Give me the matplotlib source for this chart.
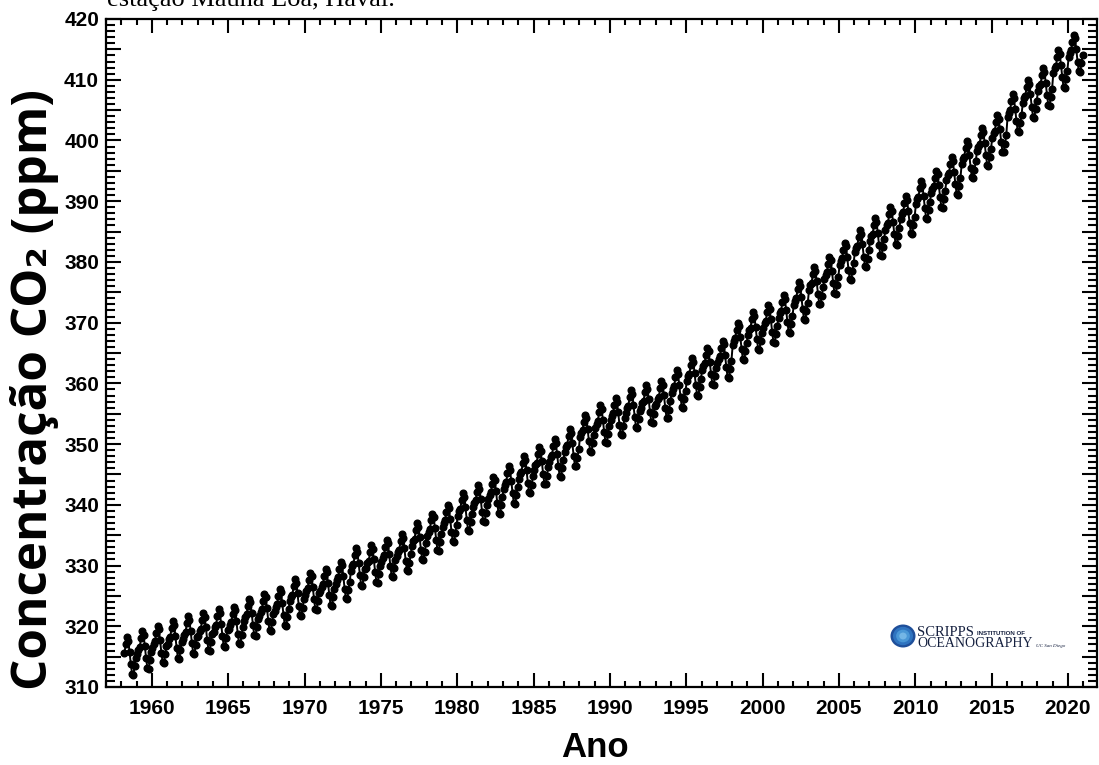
import matplotlib
matplotlib.use("Agg")
import matplotlib.pyplot as plt
from matplotlib.ticker import MultipleLocator, FuncFormatter
from matplotlib.patches import Ellipse

# Mauna Loa monthly CO2 record, March 1958 - December 2020
years = list(range(1958, 2021))
annual_mean_ppm = [
    315.00, 315.98, 316.91, 317.64, 318.45, 318.99, 319.62, 320.04, 321.37, 322.18,
    323.05, 324.62, 325.68, 326.32, 327.46, 329.68, 330.19, 331.12, 332.03, 333.84,
    335.41, 336.84, 338.76, 340.12, 341.48, 343.15, 344.87, 346.35, 347.61, 349.31,
    351.69, 353.20, 354.45, 355.70, 356.54, 357.21, 358.96, 360.97, 362.74, 363.88,
    366.84, 368.54, 369.71, 371.32, 373.45, 375.98, 377.70, 379.98, 382.09, 384.02,
    385.83, 387.64, 390.10, 391.85, 394.06, 396.74, 398.81, 401.01, 404.41, 406.76,
    408.72, 411.66, 414.24,
]
# Monthly departure from the annual mean (Jan..Dec)
seasonal_offset_ppm = [-0.54, 0.19, 0.61, 2.01, 3.16, 2.56, 0.81, -1.24, -2.84, -2.99, -1.54, -0.19]
first_month_1958 = 3

x_ticks_major = list(range(1960, 2021, 5))
y_tick_labels = list(range(310, 421, 10))

dates, ppm = [], []
for yr, mean in zip(years, annual_mean_ppm):
    for m, off in enumerate(seasonal_offset_ppm, start=1):
        if yr == 1958 and m < first_month_1958:
            continue
        dates.append(yr + (m - 0.5) / 12.0)
        ppm.append(mean + off)

W, H = 1099, 765
fig = plt.figure(figsize=(W / 100, H / 100), dpi=100)
fig.patch.set_facecolor("white")
ax = fig.add_axes([106 / W, 1 - 687 / H, (1097 - 106) / W, (687 - 19) / H])

ax.plot(dates, ppm, color="black", lw=1.4, marker="o", ms=4.8,
        markerfacecolor="black", markeredgecolor="black", zorder=3)

ax.set_xlim(1957, 2021.9)
ax.set_ylim(310, 420)

ax.xaxis.set_major_locator(MultipleLocator(5))
ax.xaxis.set_minor_locator(MultipleLocator(1))
ax.yaxis.set_major_locator(MultipleLocator(5))
ax.yaxis.set_minor_locator(MultipleLocator(1))
ax.xaxis.set_major_formatter(FuncFormatter(lambda v, p: f"{int(round(v))}" if int(round(v)) in x_ticks_major else ""))
ax.yaxis.set_major_formatter(FuncFormatter(lambda v, p: f"{int(round(v))}" if int(round(v)) in y_tick_labels else ""))

ax.tick_params(axis="x", which="major", direction="in", length=10, width=1.5,
               top=True, bottom=True, pad=9)
ax.tick_params(axis="x", which="minor", direction="in", length=4.5, width=1.5,
               top=True, bottom=True)
ax.tick_params(axis="y", which="major", direction="in", length=11, width=1.5,
               left=True, right=True, pad=5)
ax.tick_params(axis="y", which="minor", direction="in", length=6.5, width=1.5,
               left=True, right=True)
for lab in ax.get_xticklabels() + ax.get_yticklabels():
    lab.set_fontfamily("Liberation Sans")
    lab.set_fontweight("bold")
    lab.set_fontsize(15)
for sp in ax.spines.values():
    sp.set_linewidth(1.6)

# Axis titles
fig.text(35 / W, 1 - 389 / H, "Concentração CO₂ (ppm)", rotation=90,
         ha="center", va="center", fontsize=35.5, fontweight="bold",
         family=["Open Sans", "DejaVu Sans"])
fig.text(595 / W, 1 - 757 / H, "Ano", ha="center", va="baseline",
         fontsize=25, fontweight="bold", family="Liberation Sans")

# Caption line running off the top edge
fig.text(107 / W, 1 - 6 / H, "estação Mauna Loa, Havaí.", ha="left", va="baseline",
         fontsize=19, family="Liberation Serif", color="black")

# Scripps Institution of Oceanography mark
for r, c in [(1.0, "#1f4f9a"), (0.8, "#2f74c0"), (0.55, "#4a97d6"), (0.3, "#74b6e6")]:
    fig.patches.append(Ellipse((903 / W, 1 - 636 / H), 25 * r / W, 23 * r / H,
                               transform=fig.transFigure, facecolor=c,
                               edgecolor="none", zorder=5))
fig.text(917 / W, 1 - 636 / H, "SCRIPPS", ha="left", va="baseline",
         fontsize=10.5, family="Liberation Serif", color="#15203f", zorder=6)
fig.text(977 / W, 1 - 635 / H, "INSTITUTION OF", ha="left", va="baseline",
         fontsize=4.4, family="Liberation Sans", fontweight="bold", color="#15203f", zorder=6)
fig.text(917 / W, 1 - 647 / H, "OCEANOGRAPHY", ha="left", va="baseline",
         fontsize=10.0, family="Liberation Serif", color="#15203f", zorder=6)
fig.text(1036 / W, 1 - 647 / H, "UC San Diego", ha="left", va="baseline",
         fontsize=3.6, family="Liberation Serif", style="italic", color="#15203f", zorder=6)

fig.savefig("out.png", dpi=100, facecolor="white")
